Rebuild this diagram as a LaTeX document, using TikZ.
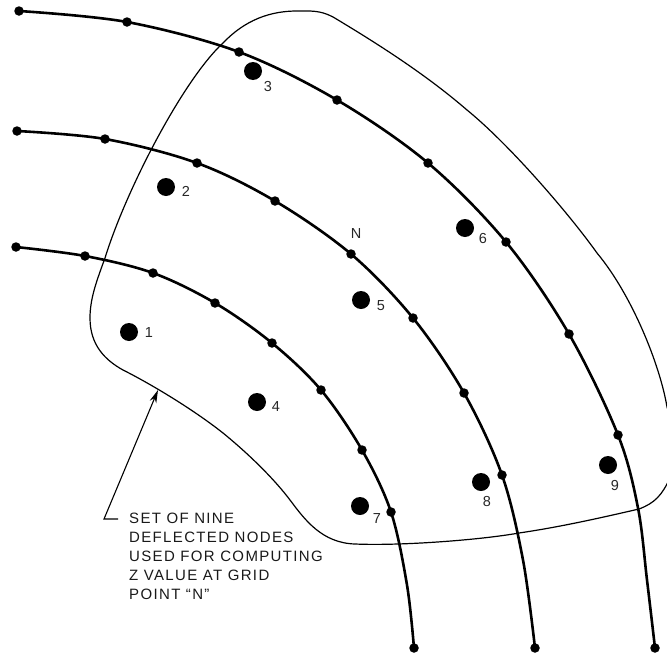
\documentclass[tikz,border=0pt]{standalone}
\usepackage{fontspec}
\setmainfont{Liberation Sans}
\newfontfamily\notefont[LetterSpace=9]{Liberation Sans}
\usetikzlibrary{arrows.meta}

\tikzset{
  griddot/.style={circle, fill=black, inner sep=0pt, minimum size=9.5pt},
  setdot/.style={circle, fill=black, inner sep=0pt, minimum size=18pt},
  numlab/.style={inner sep=0pt, font=\fontsize{14.5}{14.5}\selectfont, text=black!85},
  gridline/.style={line width=2.6pt, line join=round},
  outline/.style={line width=1.2pt, line join=round},
}

\begin{document}
\begin{tikzpicture}[x=1pt, y=-1pt, >={Stealth[length=13pt, width=7pt]}]
\useasboundingbox (0,0) rectangle (667,656);

% Grid points on the three lines
\foreach \n/\x/\y in {a1/19/11, a2/127/22, a3/239/52, a4/337/100, a5/428/163, a6/506/242, a7/569/334, a8/618/435, a9/655/648,
                      b1/17/131, b2/105/139, b3/197/163, b4/275/201, b5/351/254, b6/413/318, b7/464/393, b8/502/475, b9/535/648,
                      c1/16/247, c2/85/256, c3/153/273, c4/215/303, c5/272/343, c6/321/390, c7/362/450, c8/391/512, c9/414/648} {
  \node[griddot] (\n) at (\x,\y) {};
}

% Grid lines
\draw[gridline] plot[smooth, tension=0.55] coordinates {(a1.center) (a2.center) (a3.center) (a4.center) (a5.center) (a6.center) (a7.center) (a8.center) (638,508) (647,580) (a9.center)};
\draw[gridline] plot[smooth, tension=0.55] coordinates {(b1.center) (b2.center) (b3.center) (b4.center) (b5.center) (b6.center) (b7.center) (b8.center) (523,560) (b9.center)};
\draw[gridline] plot[smooth, tension=0.55] coordinates {(c1.center) (c2.center) (c3.center) (c4.center) (c5.center) (c6.center) (c7.center) (c8.center) (407,585) (c9.center)};

% Set of nine nodes
\foreach \n/\x/\y/\lx/\ly in {1/129/332/149/333, 2/166/187/186/191, 3/253/71/268/87, 4/257/402/276/407, 5/361/300/381/306,
                              6/465/228/483/239, 7/360/506/377/519, 8/481/482/487/502, 9/608/465/615/486} {
  \node[setdot] (set\n) at (\x,\y) {};
  \node[numlab] (num\n) at (\lx,\ly) {\n};
}

\node[numlab] (gridN) at (356,234) {N};

% Outline of the set
\draw[outline] (297,11) .. controls (270,11) and (245,20) .. (223,43)
  .. controls (183,80) and (126,190) .. (105,258)
  .. controls (97,280) and (90,298) .. (90,318)
  .. controls (90,345) and (105,360) .. (123,370)
  .. controls (147,382) and (190,407) .. (223,433)
  .. controls (250,455) and (275,480) .. (290,500)
  .. controls (305,520) and (322,543) .. (355,544)
  .. controls (400,546) and (480,540) .. (519,533)
  .. controls (560,527) and (600,518) .. (639,509)
  .. controls (655,503) and (662,495) .. (670,478)
  .. controls (680,450) and (675,430) .. (667,407)
  .. controls (660,365) and (632,295) .. (597,253)
  .. controls (570,215) and (510,145) .. (467,110)
  .. controls (430,78) and (385,48) .. (333,17)
  .. controls (320,10) and (310,11) .. (297,11);

% Note with leader
\node[anchor=north west, align=left, inner sep=0pt, font=\fontsize{15}{19}\notefont, text=black!90] (note) at (129,513) {SET OF NINE\\DEFLECTED NODES\\USED FOR COMPUTING\\Z VALUE AT GRID\\POINT “N”};
\coordinate (leadA) at (118,519);
\coordinate (leadB) at (104,519);
\coordinate (leadC) at (158,390);
\draw[->, line width=1.1pt] (leadA) -- (leadB) -- (leadC);

\end{tikzpicture}
\end{document}
